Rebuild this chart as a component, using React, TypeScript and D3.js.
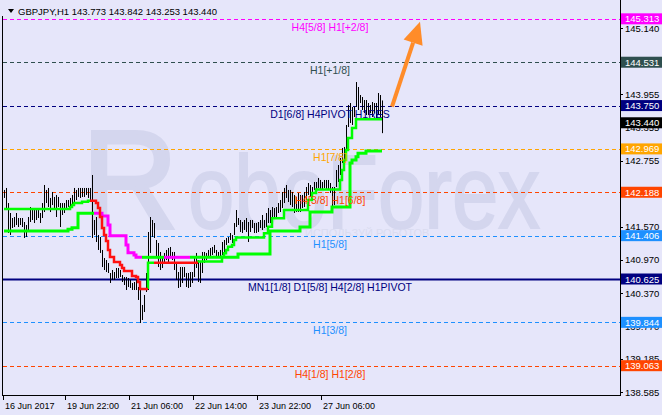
import React from 'react';
import * as d3 from 'd3';

const W = 662;
const H = 415;

const titleText = 'GBPJPY,H1  143.773 143.842 143.253 143.440';

// H1 bars: highs and lows (bar index 0 = 16 Jun 2017 ~14:00)
const barHigh = [
  142.229, 142.265, 141.994, 141.814, 141.724, 141.742, 141.814, 141.724, 141.724, 141.724,
  141.652, 141.598, 141.742, 141.922, 141.904, 141.868, 141.868, 141.868, 141.814, 141.994,
  142.319, 142.229, 142.265, 142.085, 142.193, 142.103, 142.139, 142.103, 141.994, 141.994,
  141.994, 142.048, 142.048, 142.085, 142.139, 142.265, 142.229, 142.265, 142.265, 142.265,
  142.265, 142.265, 142.265, 142.265, 142.499, 141.688, 141.742, 141.418, 141.382, 141.148,
  141.003, 140.967, 140.913, 140.733, 140.787, 140.751, 140.823, 140.823, 140.787, 140.697,
  140.661, 140.661, 140.643, 140.607, 140.553, 140.571, 140.607, 140.481, 140.427, 140.157,
  140.337, 140.733, 141.472, 141.742, 141.688, 141.634, 141.328, 141.274, 141.112, 141.021,
  141.094, 141.148, 141.184, 141.202, 141.112, 141.112, 140.913, 140.751, 140.841, 140.841,
  140.841, 140.733, 140.733, 140.751, 140.751, 141.021, 141.094, 140.967, 140.931, 141.112,
  141.112, 141.094, 141.148, 141.184, 141.202, 141.238, 141.148, 141.112, 141.148, 141.292,
  141.328, 141.364, 141.382, 141.454, 141.418, 141.634, 141.868, 141.724, 141.688, 141.652,
  141.688, 141.724, 141.652, 141.688, 141.688, 141.634, 141.634, 141.652, 141.688, 141.778,
  141.688, 141.814, 141.904, 141.868, 141.922, 141.904, 141.922, 141.994, 142.048, 142.193,
  142.265, 142.319, 142.229, 142.229, 142.193, 142.139, 142.103, 142.175, 142.139, 142.139,
  142.193, 142.283, 142.355, 142.319, 142.283, 142.373, 142.373, 142.445, 142.409, 142.373,
  142.409, 142.409, 142.409, 142.355, 142.283, 142.283, 142.589, 142.679, 142.805, 142.986,
  143.004, 143.400, 143.760, 143.796, 143.724, 143.724, 144.174, 144.084, 143.940, 143.904,
  143.850, 143.850, 143.796, 143.760, 143.814, 143.796, 143.796, 143.976, 143.940, 143.842,
];
const barLow = [
  142.085, 141.904, 141.454, 141.418, 141.544, 141.562, 141.598, 141.562, 141.598, 141.562,
  141.364, 141.382, 141.472, 141.652, 141.688, 141.634, 141.688, 141.724, 141.634, 141.724,
  141.832, 141.994, 141.922, 141.832, 141.958, 141.868, 141.742, 141.922, 141.562, 141.778,
  141.814, 141.868, 141.922, 141.904, 141.958, 142.012, 142.048, 142.103, 142.085, 142.103,
  142.103, 142.139, 142.085, 142.012, 141.364, 141.418, 141.292, 141.148, 141.094, 140.841,
  140.787, 140.751, 140.733, 140.553, 140.607, 140.607, 140.643, 140.643, 140.661, 140.571,
  140.517, 140.427, 140.481, 140.463, 140.427, 140.427, 140.427, 140.247, 139.832, 139.886,
  140.030, 140.391, 140.427, 141.094, 141.382, 141.364, 141.021, 140.841, 140.787, 140.823,
  140.931, 140.967, 140.931, 141.021, 140.967, 140.787, 140.607, 140.463, 140.481, 140.553,
  140.661, 140.481, 140.463, 140.481, 140.553, 140.661, 140.823, 140.571, 140.553, 140.733,
  140.913, 140.967, 141.021, 141.021, 141.057, 141.094, 141.021, 141.021, 141.003, 141.057,
  141.112, 141.238, 141.274, 141.328, 141.274, 141.418, 141.562, 141.598, 141.472, 141.454,
  141.508, 141.472, 141.292, 141.472, 141.544, 141.454, 141.454, 141.472, 141.544, 141.508,
  141.544, 141.562, 141.634, 141.634, 141.688, 141.742, 141.742, 141.814, 141.832, 141.904,
  141.994, 142.085, 142.012, 141.958, 141.922, 141.814, 141.832, 141.832, 141.832, 141.904,
  141.922, 142.048, 142.139, 142.103, 142.175, 142.229, 142.229, 142.265, 142.229, 142.229,
  142.265, 142.229, 142.229, 142.175, 141.922, 141.958, 142.283, 142.373, 142.499, 142.715,
  142.769, 142.859, 143.364, 143.436, 143.400, 143.544, 143.724, 143.670, 143.796, 143.670,
  143.616, 143.580, 143.580, 143.616, 143.544, 143.616, 143.526, 143.580, 143.544, 143.253,
];

// step indicator 1 (green / red), [bar index, price]
const ind1Green1: [number, number][] = [[0, 141.886], [33, 141.922], [34, 141.958], [35, 141.994], [39, 142.018], [42, 142.036], [43, 142.036]];
const ind1Red1: [number, number][] = [[43, 142.036], [46, 141.994], [47, 141.904], [48, 141.742], [49, 141.544], [50, 141.418], [51, 141.310], [52, 141.148], [53, 141.021], [55, 140.931], [58, 140.877], [59, 140.823], [60, 140.769], [64, 140.679], [66, 140.661], [67, 140.571], [68, 140.445], [72, 140.445]];
const ind1Green2: [number, number][] = [[72, 140.445], [72, 140.919], [75, 140.919]];
const ind1Red2: [number, number][] = [[75, 140.919], [97, 140.919]];
const ind1Green3: [number, number][] = [[97, 140.919], [97, 140.940], [109, 141.027], [110, 141.088], [111, 141.148], [112, 141.207], [114, 141.238], [115, 141.328], [116, 141.373], [130, 141.450], [132, 141.567], [134, 141.719], [140, 141.868], [152, 142.048], [154, 142.175], [156, 142.238], [168, 142.409], [169, 142.589], [170, 142.769], [171, 142.949], [172, 143.166], [174, 143.346], [176, 143.502], [189, 143.502]];

// step indicator 2 (green / magenta)
const ind2Green1: [number, number][] = [[0, 141.490], [32, 141.520], [34, 141.549], [37, 141.809], [45, 141.809]];
const ind2Mag1: [number, number][] = [[45, 141.809], [49, 141.760], [52, 141.598], [53, 141.405], [61, 141.238], [62, 141.099], [65, 141.057], [66, 141.016], [69, 141.016]];
const ind2Green2: [number, number][] = [[69, 141.016], [80, 141.016]];
const ind2Mag2: [number, number][] = [[80, 141.016], [93, 141.016]];
const ind2Green3: [number, number][] = [[93, 141.016], [117, 141.075], [133, 141.490], [148, 141.562], [153, 141.832], [164, 141.922], [173, 142.715], [174, 142.769], [176, 142.829], [177, 142.890], [181, 142.931], [189, 142.931]];

const timeLabels = ['16 Jun 2017', '19 Jun 22:00', '21 Jun 06:00', '22 Jun 14:00', '23 Jun 22:00', '27 Jun 06:00'];
const timeLabelBars = [0, 31, 63, 95, 127, 159];

const priceTicks = [145.14, 144.54, 143.955, 143.355, 142.755, 142.17, 141.57, 140.97, 140.37, 139.77, 139.185, 138.585];

const levelPrices = [145.313, 144.531, 143.75, 142.969, 142.188, 141.406, 140.625, 139.844, 139.063];
const levelNames = ['H4[5/8] H1[+2/8]', 'H1[+1/8]', 'D1[6/8] H4PIVOT H1RES', 'H1[7/8]', 'H4[3/8] H1[6/8]', 'H1[5/8]', 'MN1[1/8] D1[5/8] H4[2/8] H1PIVOT', 'H1[3/8]', 'H4[1/8] H1[2/8]'];
const levelColors = ['#FF00FF', '#2F4F4F', '#000080', '#FFA500', '#FF4500', '#1E90FF', '#000080', '#1E90FF', '#FF4500'];
const levelSolid = [false, false, false, false, false, false, true, false, false];

const lastPrice = 143.44;
const arrowFrom: [number, number] = [194, 143.73];
const arrowTo: [number, number] = [208, 145.26];

const FONT = '"Liberation Sans", Arial, sans-serif';

export default function App() {
  const x = d3.scaleLinear().domain([0, 189]).range([4, 382]);
  const y = d3.scaleLinear().domain([138.535, 145.562]).range([395, 5]);
  const line = d3.line<[number, number]>().x(d => x(d[0])).y(d => y(d[1])).curve(d3.curveStepAfter);
  const axisX = 620;
  const bottom = 395;

  const fmt = d3.format('.3f');

  // arrow geometry
  const ax0 = x(arrowFrom[0]), ay0 = y(arrowFrom[1]);
  const ax1 = x(arrowTo[0]), ay1 = y(arrowTo[1]);
  const dx = ax1 - ax0, dy = ay1 - ay0;
  const len = Math.hypot(dx, dy);
  const ux = dx / len, uy = dy / len;
  const headL = 22, headW = 10;
  const bx = ax1 - ux * headL, by = ay1 - uy * headL;
  const px = -uy, py = ux;
  const head = `M${ax1},${ay1}L${bx + px * headW},${by + py * headW}L${bx - px * headW},${by - py * headW}Z`;

  const boxes = levelPrices.map((p, i) => ({ p, c: levelColors[i] }));
  boxes.push({ p: lastPrice, c: '#000000' });

  const wm = '#D4D6EE';

  return (
    <svg width={W} height={H} style={{ position: 'absolute', left: 0, top: 0, display: 'block' }} fontFamily={FONT}>
      <rect x={0} y={0} width={W} height={H} fill="#E6E6FA" />
      {/* watermark */}
      <text x={82} y={228} fontSize={140} fill={wm} stroke={wm} strokeWidth={4} textLength={96} lengthAdjust="spacingAndGlyphs">R</text>
      <text x={188} y={228} fontSize={104} fill={wm} stroke={wm} strokeWidth={2} textLength={352} lengthAdjust="spacingAndGlyphs">oboForex</text>
      <text x={305} y={237} fontSize={11} fill="#DADCF0">ИСПОЛЬЗУЙ РОБОТОВ</text>

      {/* levels */}
      {levelPrices.map((p, i) => (
        <line key={'lv' + i} x1={3} x2={axisX} y1={Math.round(y(p)) + 0.5} y2={Math.round(y(p)) + 0.5}
          stroke={levelColors[i]} strokeWidth={levelSolid[i] ? 2 : 1} strokeDasharray={levelSolid[i] ? undefined : '4,3'} />
      ))}

      {/* bars */}
      {barHigh.map((h, i) => (
        <line key={'b' + i} x1={Math.round(x(i)) + 0.5} x2={Math.round(x(i)) + 0.5} y1={y(h)} y2={y(barLow[i])} stroke="#000" strokeWidth={1} />
      ))}

      {/* indicators */}
      {[ind2Green1, ind2Green2, ind2Green3].map((d, i) => (
        <path key={'g2' + i} d={line(d) || ''} fill="none" stroke="#00FF00" strokeWidth={3} />
      ))}
      {[ind2Mag1, ind2Mag2].map((d, i) => (
        <path key={'m2' + i} d={line(d) || ''} fill="none" stroke="#FF00FF" strokeWidth={3} />
      ))}
      {[ind1Green1, ind1Green2, ind1Green3].map((d, i) => (
        <path key={'g1' + i} d={line(d) || ''} fill="none" stroke="#00FF00" strokeWidth={2.5} />
      ))}
      {[ind1Red1, ind1Red2].map((d, i) => (
        <path key={'r1' + i} d={line(d) || ''} fill="none" stroke="#FF1010" strokeWidth={2.5} />
      ))}

      {/* level labels */}
      {levelNames.map((n, i) => (
        <text key={'ln' + i} x={330} y={y(levelPrices[i]) + 12} textAnchor="middle" fontSize={10.5} fill={levelColors[i]}>{n}</text>
      ))}

      {/* arrow */}
      <line x1={ax0} y1={ay0} x2={bx} y2={by} stroke="#FF8C29" strokeWidth={4} />
      <path d={head} fill="#FF8C29" />

      {/* title */}
      <path d="M8,9L14,9L11,13Z" fill="#000" />
      <text x={18} y={15} fontSize={9.5} fill="#000">{titleText}</text>

      {/* frame */}
      <line x1={2.5} x2={2.5} y1={16} y2={bottom} stroke="#000" />
      <line x1={2} x2={axisX} y1={bottom + 0.5} y2={bottom + 0.5} stroke="#000" />
      <line x1={axisX + 0.5} x2={axisX + 0.5} y1={0} y2={bottom + 1} stroke="#000" />

      {/* price ticks */}
      {priceTicks.map((p, i) => (
        <g key={'pt' + i}>
          <line x1={axisX} x2={axisX + 3} y1={Math.round(y(p)) + 0.5} y2={Math.round(y(p)) + 0.5} stroke="#000" />
          <text x={625} y={y(p) + 3.5} fontSize={9.5} fill="#000">{fmt(p)}</text>
        </g>
      ))}
      {boxes.map((b, i) => (
        <g key={'bx' + i}>
          <rect x={axisX + 1} y={y(b.p) - 5.5} width={41} height={11} fill={b.c} />
          <text x={625} y={y(b.p) + 3.5} fontSize={9.5} fill="#fff">{fmt(b.p)}</text>
        </g>
      ))}

      {/* time axis */}
      {timeLabelBars.map((bi, i) => (
        <g key={'tl' + i}>
          <line x1={Math.round(x(bi)) - 0.5} x2={Math.round(x(bi)) - 0.5} y1={bottom} y2={bottom + 5} stroke="#000" />
          <text x={Math.round(x(bi)) + 1} y={409} fontSize={9} fill="#000">{timeLabels[i]}</text>
        </g>
      ))}
    </svg>
  );
}
